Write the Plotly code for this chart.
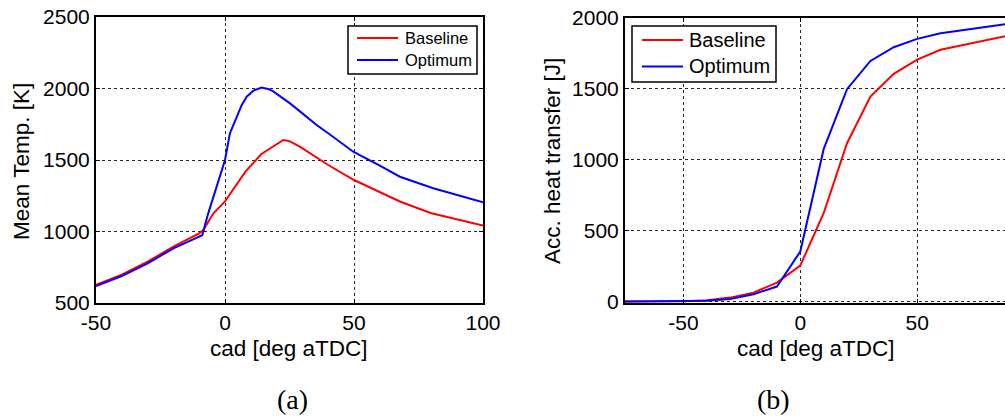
import plotly.graph_objects as go

# ---------------- data ----------------
# (a) Mean temperature vs crank angle
cad_a_base = [-50, -40, -30, -20, -10, -8.4, -4.5, 0, 3, 8, 14, 18.7, 22.6, 25, 29, 37, 40, 50, 60, 68, 80, 90, 100]
temp_base = [628, 698, 789, 894, 987, 1010, 1127, 1210, 1290, 1420, 1540, 1593, 1640, 1632, 1593, 1500, 1465, 1360, 1274, 1208, 1128, 1085, 1041]

cad_a_opt = [-50, -40, -30, -20, -10, -8.8, -6.5, -3.2, 0, 1.9, 4.5, 6.5, 8.4, 11, 14.2, 17, 18.7, 25.2, 30, 35.5, 40, 49.7, 60, 67.8, 80.7, 90, 100]
temp_opt = [619, 689, 777, 882, 964, 975, 1127, 1313, 1500, 1687, 1803, 1885, 1943, 1985, 2006, 1995, 1980, 1896, 1826, 1745, 1687, 1558, 1460, 1383, 1302, 1255, 1204]

# (b) Accumulated heat transfer vs crank angle
cad_b = [-75, -70, -60, -50, -40, -30, -20, -10, 0, 10, 20, 30, 40, 50, 60, 70, 80, 90]
heat_base = [0, 0, 0, 3, 10, 28, 63, 134, 254, 623, 1117, 1446, 1606, 1706, 1776, 1812, 1846, 1880]
heat_opt = [0, 0, 0, 1, 5, 19, 52, 106, 353, 1075, 1498, 1697, 1794, 1853, 1893, 1915, 1938, 1962]

x_ticks_a = [-50, 0, 50, 100]
x_labels_a = ["-50", "0", "50", "100"]
y_ticks_a = [500, 1000, 1500, 2000, 2500]
x_ticks_b = [-50, 0, 50]
x_labels_b = ["-50", "0", "50"]
y_ticks_b = [0, 500, 1000, 1500, 2000]

series_names = ["Baseline", "Optimum"]

# ---------------- layout helpers ----------------
W, H = 1005, 416
def fx(p): return p / W
def fy(p): return 1 - p / H

FONT = "Liberation Sans, Arial, sans-serif"
SERIF = "Liberation Serif, Times New Roman, serif"
RED = "#ff0000"
BLUE = "#0000ff"
COLORS = [RED, BLUE]

fig = go.Figure()
fig.add_trace(go.Scatter(x=cad_a_base, y=temp_base, mode="lines", name=series_names[0],
                         line=dict(color=RED, width=2), xaxis="x", yaxis="y"))
fig.add_trace(go.Scatter(x=cad_a_opt, y=temp_opt, mode="lines", name=series_names[1],
                         line=dict(color=BLUE, width=2), xaxis="x", yaxis="y"))
fig.add_trace(go.Scatter(x=cad_b, y=heat_base, mode="lines", name=series_names[0],
                         line=dict(color=RED, width=2), xaxis="x2", yaxis="y2"))
fig.add_trace(go.Scatter(x=cad_b, y=heat_opt, mode="lines", name=series_names[1],
                         line=dict(color=BLUE, width=2), xaxis="x2", yaxis="y2"))

axis_common = dict(showgrid=True, gridcolor="rgba(0,0,0,0.85)", gridwidth=1, griddash="dot",
                   zeroline=False, showline=True, linecolor="black", linewidth=2,
                   ticks="inside", ticklen=4, tickwidth=1, tickcolor="black", automargin=False,
                   tickfont=dict(family=FONT, size=21, color="black"))

fig.update_layout(
    template="none",
    width=W, height=H, margin=dict(l=0, r=0, t=0, b=0, pad=0),
    paper_bgcolor="white", plot_bgcolor="white",
    font=dict(family=FONT, color="black"),
    showlegend=False,
    xaxis=dict(axis_common, domain=[fx(96), fx(483)], range=[-50, 100], tickvals=x_ticks_a,
               ticktext=x_labels_a, mirror="ticks", anchor="y"),
    yaxis=dict(axis_common, domain=[fy(303), fy(17)], range=[500, 2500], tickvals=y_ticks_a,
               mirror="ticks", anchor="x"),
    xaxis2=dict(axis_common, domain=[fx(625), 1.0], range=[-75, 87.6], tickvals=x_ticks_b,
                ticktext=x_labels_b, mirror="ticks", anchor="y2"),
    yaxis2=dict(axis_common, domain=[fy(303), fy(18)], range=[-10, 2000], tickvals=y_ticks_b,
                mirror=False, anchor="x2"),
)

annotations = [
    dict(text="Mean Temp. [K]", x=fx(22), y=fy(162), textangle=-90, font=dict(size=22.5)),
    dict(text="Acc. heat transfer [J]", x=fx(552), y=fy(161), textangle=-90, font=dict(size=22.5)),
    dict(text="cad [deg aTDC]", x=fx(289), y=fy(348), font=dict(size=22.5)),
    dict(text="cad [deg aTDC]", x=fx(816), y=fy(348), font=dict(size=22.5)),
    dict(text="(a)", x=fx(292), y=fy(399), font=dict(size=28, family=SERIF)),
    dict(text="(b)", x=fx(773), y=fy(399), font=dict(size=28, family=SERIF)),
]
for a in annotations:
    a.update(xanchor="center", yanchor="middle")

# ---- legends (box, sample lines, labels) ----
shapes = []
legends = [
    dict(box=(348, 26, 477, 74), lx=(357, 398), rows=(38, 60), tx=403, size=16.5),
    dict(box=(632, 26, 776, 82), lx=(642, 683), rows=(40, 66.5), tx=687, size=20),
]
for lg in legends:
    x0, y0, x1, y1 = lg["box"]
    shapes.append(dict(type="rect", xref="paper", yref="paper", x0=fx(x0), x1=fx(x1), y0=fy(y1), y1=fy(y0),
                       line=dict(color="black", width=1.5), fillcolor="white", layer="above"))
    for name, col, ry in zip(series_names, COLORS, lg["rows"]):
        shapes.append(dict(type="line", xref="paper", yref="paper", x0=fx(lg["lx"][0]), x1=fx(lg["lx"][1]),
                           y0=fy(ry), y1=fy(ry), line=dict(color=col, width=2), layer="above"))
        annotations.append(dict(text=name, x=fx(lg["tx"]), y=fy(ry), xanchor="left", yanchor="middle",
                                font=dict(size=lg["size"])))

for a in annotations:
    a.update(xref="paper", yref="paper", showarrow=False)
    a["font"].setdefault("family", FONT)
    a["font"]["color"] = "black"
fig.update_layout(annotations=annotations, shapes=shapes)

fig.write_html("out.html")
